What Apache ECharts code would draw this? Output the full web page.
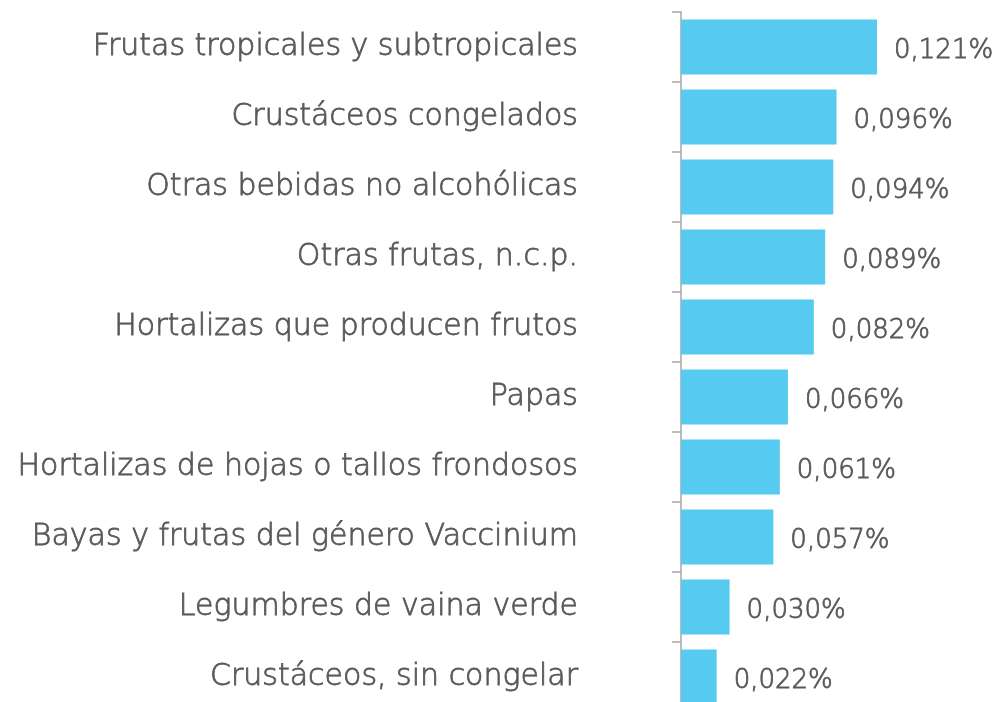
<!DOCTYPE html>
<html>
<head>
<meta charset="utf-8">
<script src="https://cdn.jsdelivr.net/npm/echarts@6/dist/echarts.min.js"></script>
<style>html,body{margin:0;padding:0;background:#fff;}#chart{width:1003px;height:702px;}</style>
</head>
<body>
<div id="chart"></div>
<script>
const categories = [
  "Frutas tropicales y subtropicales",
  "Crustáceos congelados",
  "Otras bebidas no alcohólicas",
  "Otras frutas, n.c.p.",
  "Hortalizas que producen frutos",
  "Papas",
  "Hortalizas de hojas o tallos frondosos",
  "Bayas y frutas del género Vaccinium",
  "Legumbres de vaina verde",
  "Crustáceos, sin congelar"
];
const values = [0.121, 0.096, 0.094, 0.089, 0.082, 0.066, 0.061, 0.057, 0.030, 0.022];

const FONT = "DejaVu Sans";
const TEXT = '#595959';
const chart = echarts.init(document.getElementById('chart'));
chart.setOption({
  animation: false,
  grid: { left: 681, top: 12, width: 243, height: 700, outerBoundsMode: 'none', containLabel: false },
  xAxis: { type: 'value', min: 0, max: 0.15, show: false },
  yAxis: {
    type: 'category', data: categories, inverse: true,
    axisLine: { show: true, lineStyle: { color: '#A6A6A6', width: 1.5 } },
    axisTick: { show: true, length: 9, lineStyle: { color: '#A6A6A6', width: 1.5 } },
    axisLabel: {
      margin: 103, color: TEXT, fontSize: 30, fontFamily: FONT, fontWeight: 300,
      textBorderColor: TEXT, textBorderWidth: 0.8, padding: [6, 0, 0, 0]
    }
  },
  series: [{
    type: 'bar', data: values, barWidth: 55,
    itemStyle: { color: '#56CBEF' },
    label: {
      show: true, position: 'right', distance: 17, offset: [0, 4],
      color: TEXT, fontSize: 26, fontFamily: FONT, fontWeight: 300,
      textBorderColor: TEXT, textBorderWidth: 0.8,
      formatter: p => p.value.toFixed(3).replace('.', ',') + '%'
    }
  }]
});
</script>
</body>
</html>
